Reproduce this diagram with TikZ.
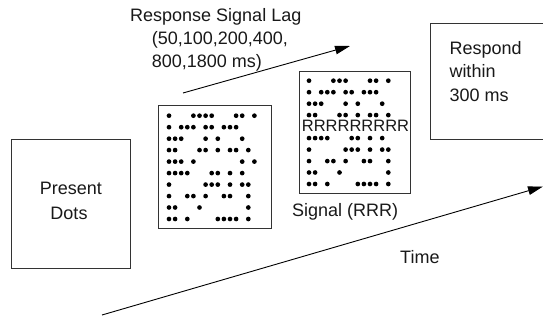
\documentclass[tikz,border=0pt]{standalone}
\usepackage{fontspec}
\setmainfont{Liberation Sans}
\usetikzlibrary{arrows.meta}
\newcommand{\mydotrow}[3]{\foreach \c in {#3} {\fill ({#1+\c*6.1},#2) circle[radius=2.35pt];}}
\begin{document}
\begin{tikzpicture}[x=1pt,y=-1pt,
  box/.style={draw=black!80, line width=1pt, inner sep=0pt},
  lbl/.style={font=\fontsize{18}{22}\selectfont, inner sep=0pt, anchor=base west, text=black!90},
  arr/.style={line width=0.9pt, -{Triangle[length=15pt,width=8.5pt]}}]
\useasboundingbox[fill=white] (0,0) rectangle (543,320);

% boxes
\node[box, minimum width=118.5pt, minimum height=128pt] (present) at (70.75,204) {};
\node[box, minimum width=113pt, minimum height=123pt] (dots) at (214.5,167.5) {};
\node[box, minimum width=111pt, minimum height=122pt] (signal) at (354.5,133) {};
\draw[black!80, line width=1pt] (543,23.5) -- (430,23.5) -- (430,140) -- (543,140);

% labels
\node[lbl, anchor=base] (p1) at (70.8,195) {Present};
\node[lbl, anchor=base] (p2) at (69,220) {Dots};
\node[lbl] (r1) at (449.3,55) {Respond};
\node[lbl] (r2) at (449.3,78) {within};
\node[lbl] (r3) at (449.3,102) {300 ms};
\node[lbl] (l1) at (130,22) {Response Signal Lag};
\node[lbl] (l2) at (151.7,45) {(50,100,200,400,};
\node[lbl] (l3) at (151.7,67.5) {800,1800 ms)};
\node[lbl] (sig) at (292,216.7) {Signal (RRR)};
\node[lbl] (time) at (400,263) {Time};

% arrows
\coordinate (a0) at (183,93);
\coordinate (a1) at (350,46);
\draw[arr] (a0) -- (a1);
\coordinate (t0) at (102,315);
\coordinate (t1) at (543,186.5);
\draw[arr] (t0) -- (t1);

% dots box 1
\mydotrow{169}{115.7}{0,4,5,6,7,11,12,14}
\mydotrow{169}{127.2}{0,2,3,4,6,7,9,10,11}
\mydotrow{169}{138.7}{0,1,2,6,8,12}
\mydotrow{169}{150.1}{0,1,5,6,8,10,11,13}
\mydotrow{169}{161.6}{0,1,2,4,12,14}
\mydotrow{169}{173.1}{0,1,2,3,7,8,10,12}
\mydotrow{169}{184.6}{0,6,7,8,10,12,13}
\mydotrow{169}{196.1}{0,3,4,6,9,10,13}
\mydotrow{169}{207.5}{0,1,5,13}
\mydotrow{169}{219.0}{0,1,3,8,9,10,11,13}

% dots box 2
\mydotrow{309}{80.7}{0,4,5,6,10,11,13}
\mydotrow{309}{92.2}{0,2,3,4,6,7,9,10,11}
\mydotrow{309}{103.7}{0,1,2,6,8,12}
\mydotrow{309}{115.1}{0,1,5,6,8,10,11,13}
\node[inner sep=0pt, anchor=base, font=\fontsize{16.5}{20}\selectfont, text=black!90] (rrr) at (355.5,131.5) {RRRRRRRRR};
\mydotrow{309}{138.1}{0,1,2,3,7,8,10,12}
\mydotrow{309}{149.6}{0,6,7,8,10,12,13}
\mydotrow{309}{161.1}{0,3,4,6,9,10,13}
\mydotrow{309}{172.5}{0,1,5,13}
\mydotrow{309}{184.0}{0,1,3,8,9,10,11,13}
\end{tikzpicture}
\end{document}
